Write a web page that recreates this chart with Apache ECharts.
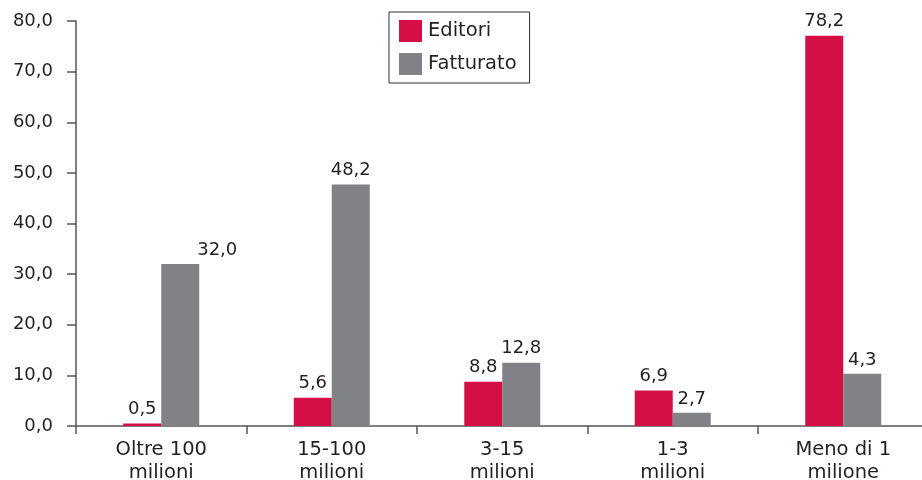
<!DOCTYPE html>
<html>
<head>
<meta charset="utf-8">
<script src="https://cdn.jsdelivr.net/npm/echarts@6/dist/echarts.min.js"></script>
<style>
html,body{margin:0;padding:0;background:#fff;}
#chart{width:922px;height:480px;}
</style>
</head>
<body>
<div id="chart"></div>
<script>
var categories = ["Oltre 100\nmilioni", "15-100\nmilioni", "3-15\nmilioni", "1-3\nmilioni", "Meno di 1\nmilione"];
var editoriValues = [0.5, 5.6, 8.75, 7.0, 77.1];
var fatturatoValues = [32.0, 47.7, 12.5, 2.6, 10.3];
var editoriLabels = ["0,5", "5,6", "8,8", "6,9", "78,2"];
var fatturatoLabels = ["32,0", "48,2", "12,8", "2,7", "4,3"];
var yTicks = [0, 10, 20, 30, 40, 50, 60, 70, 80];

var FONT = "DejaVu Sans, Verdana, sans-serif";
var TEXT = "#231F20";

function buildData(values, labels, extra) {
  return values.map(function (v, i) {
    var item = { value: v, labelText: labels[i] };
    if (extra && extra[i]) item.label = extra[i];
    return item;
  });
}

var chart = echarts.init(document.getElementById('chart'), null, { renderer: 'canvas' });
chart.setOption({
  animation: false,
  backgroundColor: '#ffffff',
  textStyle: { fontFamily: FONT },
  grid: { left: 76, right: -6.5, top: 21, bottom: 54, containLabel: false, outerBoundsMode: 'none' },
  legend: {
    orient: 'vertical',
    left: 389,
    top: 12,
    data: ['Editori', 'Fatturato'],
    icon: 'rect',
    itemWidth: 23,
    itemHeight: 22,
    itemGap: 11,
    padding: [8, 13, 8, 10],
    borderColor: '#333333',
    borderWidth: 1,
    textStyle: { fontFamily: FONT, fontSize: 19.5, color: TEXT, padding: [0, 0, 0, 1] }
  },
  xAxis: {
    type: 'category',
    data: categories,
    axisLine: { lineStyle: { color: '#555555', width: 1.5 } },
    axisTick: { show: true, length: 8, lineStyle: { color: '#555555', width: 1.5 } },
    axisLabel: { fontFamily: FONT, fontSize: 19.5, color: TEXT, lineHeight: 23, margin: 12, interval: 0 }
  },
  yAxis: {
    type: 'value',
    min: 0, max: 80, interval: 10,
    splitLine: { show: false },
    axisLine: { show: true, lineStyle: { color: '#555555', width: 1.5 } },
    axisTick: { show: true, inside: false, length: 9, lineStyle: { color: '#555555', width: 1.5 } },
    axisLabel: {
      fontFamily: FONT, fontSize: 18, color: TEXT, margin: 23,
      formatter: function (v) { return yTicks.indexOf(v) >= 0 ? v.toFixed(1).replace('.', ',') : ''; }
    }
  },
  series: [
    {
      name: 'Editori', type: 'bar', barWidth: 38, barGap: '0%',
      itemStyle: { color: '#D30F45' },
      label: {
        show: true, position: 'top', distance: 5,
        fontFamily: FONT, fontSize: 18, color: TEXT,
        formatter: function (p) { return p.data.labelText; }
      },
      data: buildData(editoriValues, editoriLabels)
    },
    {
      name: 'Fatturato', type: 'bar', barWidth: 38, barGap: '0%',
      itemStyle: { color: '#808285' },
      label: {
        show: true, position: 'top', distance: 5,
        fontFamily: FONT, fontSize: 18, color: TEXT,
        formatter: function (p) { return p.data.labelText; }
      },
      data: buildData(fatturatoValues, fatturatoLabels, [{ offset: [37, 0] }])
    }
  ]
});
</script>
</body>
</html>
